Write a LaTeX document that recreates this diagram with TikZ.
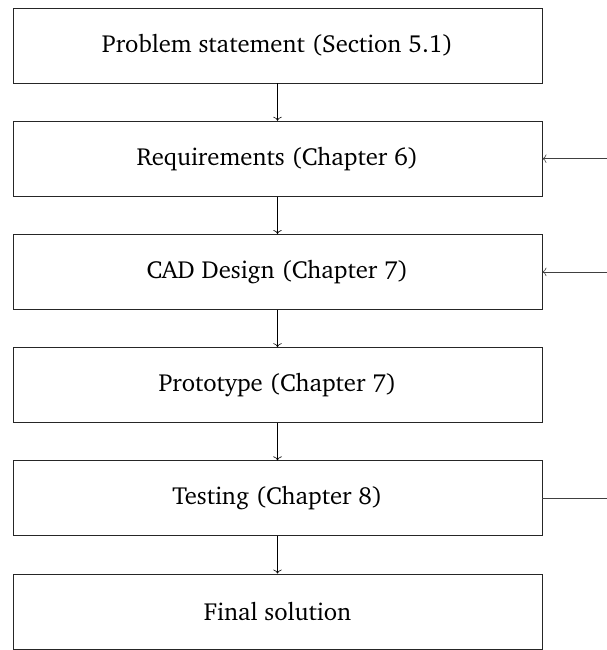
\documentclass[tikz,border=0pt]{standalone}
\usepackage[T1]{fontenc}
\usepackage{charter}
\usetikzlibrary{arrows.meta}
\begin{document}
\begin{tikzpicture}[x=1bp, y=-1bp,
  stage/.style={draw=black!85, line width=0.8bp, minimum width=529bp,
    minimum height=75bp, inner sep=0pt, font=\fontsize{24.8}{29}\selectfont},
  tip/.style={-{To[length=4bp,width=8.5bp]}},
  flow/.style={tip, line width=0.6bp},
  feed/.style={line width=0.6bp, draw=black!75}]
\useasboundingbox (0,0) rectangle (607,650);
% process stages, top to bottom
\node[stage] (prob) at (277.5,45.5)  {Problem statement (Section 5.1)};
\node[stage] (req)  at (277.5,158.7) {Requirements (Chapter 6)};
\node[stage] (cad)  at (277.5,271.9) {CAD Design (Chapter 7)};
\node[stage] (proto) at (277.5,385.1) {Prototype (Chapter 7)};
\node[stage] (test) at (277.5,498.3) {Testing (Chapter 8)};
\node[stage] (final) at (277.5,611.5) {Final solution};
% main flow
\draw[flow] (prob) -- (req);
\draw[flow] (req) -- (cad);
\draw[flow] (cad) -- (proto);
\draw[flow] (proto) -- (test);
\draw[flow] (test) -- (final);
% feedback loop ends on the right
\coordinate (fbreq) at (607,158.7);
\coordinate (fbcad) at (607,271.9);
\coordinate (fbtest) at (607,498.3);
\draw[feed, tip] (fbreq) -- (req.east);
\draw[feed, tip] (fbcad) -- (cad.east);
\draw[feed] (test.east) -- (fbtest);
\end{tikzpicture}
\end{document}
